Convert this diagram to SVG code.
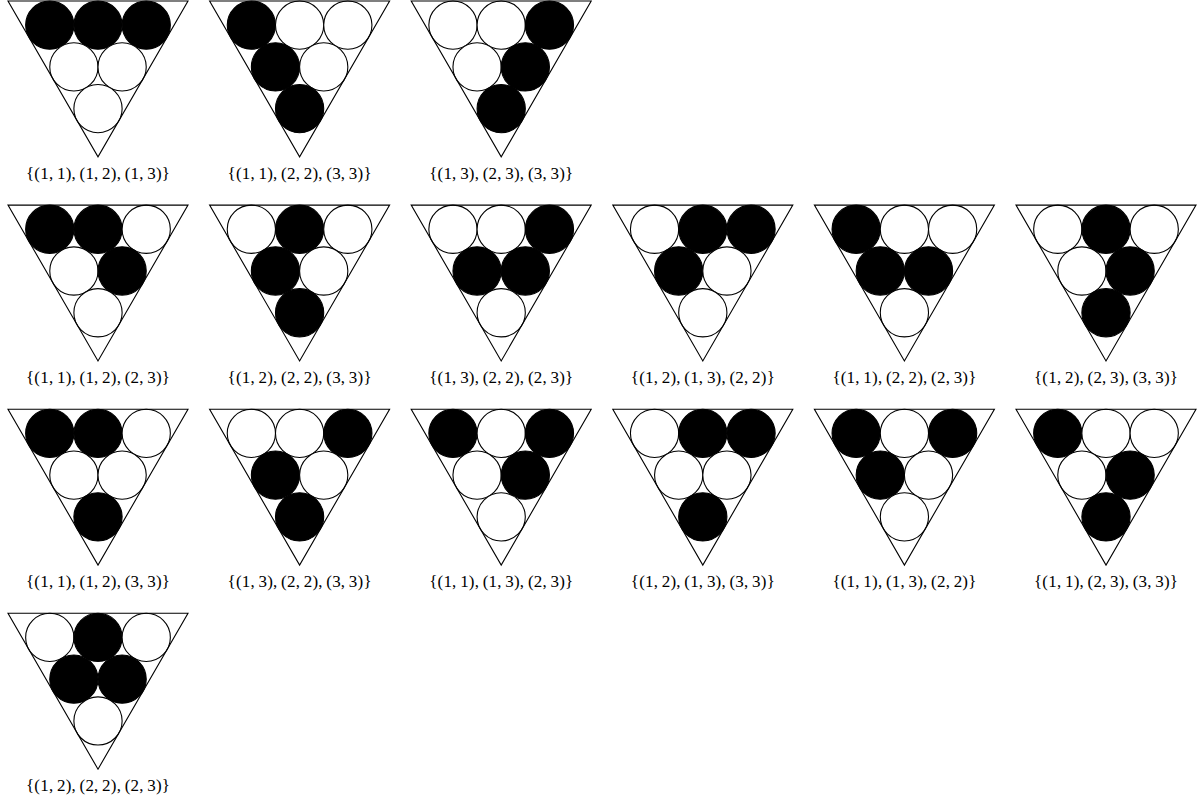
<svg xmlns="http://www.w3.org/2000/svg" xmlns:xlink="http://www.w3.org/1999/xlink" width="1198" height="802" viewBox="0 0 1198 802">
<style>
.tri{fill:none;stroke:#000;stroke-width:1.1;stroke-linejoin:miter}
.c{stroke:#000;stroke-width:1.1}
.w{fill:#fff}
.b{fill:#000}
.lbl{font-family:"Liberation Serif","DejaVu Serif",serif;font-size:17px;fill:#000;text-anchor:middle}
</style>
<defs>
<polygon id="tri" class="tri" points="0,0 180,0 90,155.88"/>
<circle id="TL" cx="41.77" cy="24.12" r="24.12"/>
<circle id="TM" cx="90" cy="24.12" r="24.12"/>
<circle id="TR" cx="138.23" cy="24.12" r="24.12"/>
<circle id="ML" cx="65.88" cy="65.88" r="24.12"/>
<circle id="MR" cx="114.12" cy="65.88" r="24.12"/>
<circle id="B" cx="90" cy="107.65" r="24.12"/>
</defs>
<rect width="1198" height="802" fill="#fff"/>

<g id="p1" transform="translate(8,1)">
<use href="#TL" class="c b"/><use href="#TM" class="c b"/><use href="#TR" class="c b"/>
<use href="#ML" class="c w"/><use href="#MR" class="c w"/><use href="#B" class="c w"/>
<use href="#tri"/>
<text class="lbl" x="90" y="177.5" textLength="144" lengthAdjust="spacing">{(1,&#8201;1),&#8201;(1,&#8201;2),&#8201;(1,&#8201;3)}</text>
</g>
<g id="p2" transform="translate(209.6,1)">
<use href="#TL" class="c b"/><use href="#TM" class="c w"/><use href="#TR" class="c w"/>
<use href="#ML" class="c b"/><use href="#MR" class="c w"/><use href="#B" class="c b"/>
<use href="#tri"/>
<text class="lbl" x="90" y="177.5" textLength="144" lengthAdjust="spacing">{(1,&#8201;1),&#8201;(2,&#8201;2),&#8201;(3,&#8201;3)}</text>
</g>
<g id="p3" transform="translate(411.2,1)">
<use href="#TL" class="c w"/><use href="#TM" class="c w"/><use href="#TR" class="c b"/>
<use href="#ML" class="c w"/><use href="#MR" class="c b"/><use href="#B" class="c b"/>
<use href="#tri"/>
<text class="lbl" x="90" y="177.5" textLength="144" lengthAdjust="spacing">{(1,&#8201;3),&#8201;(2,&#8201;3),&#8201;(3,&#8201;3)}</text>
</g>

<g id="p4" transform="translate(8,205.1)">
<use href="#TL" class="c b"/><use href="#TM" class="c b"/><use href="#TR" class="c w"/>
<use href="#ML" class="c w"/><use href="#MR" class="c b"/><use href="#B" class="c w"/>
<use href="#tri"/>
<text class="lbl" x="90" y="177.5" textLength="144" lengthAdjust="spacing">{(1,&#8201;1),&#8201;(1,&#8201;2),&#8201;(2,&#8201;3)}</text>
</g>
<g id="p5" transform="translate(209.6,205.1)">
<use href="#TL" class="c w"/><use href="#TM" class="c b"/><use href="#TR" class="c w"/>
<use href="#ML" class="c b"/><use href="#MR" class="c w"/><use href="#B" class="c b"/>
<use href="#tri"/>
<text class="lbl" x="90" y="177.5" textLength="144" lengthAdjust="spacing">{(1,&#8201;2),&#8201;(2,&#8201;2),&#8201;(3,&#8201;3)}</text>
</g>
<g id="p6" transform="translate(411.2,205.1)">
<use href="#TL" class="c w"/><use href="#TM" class="c w"/><use href="#TR" class="c b"/>
<use href="#ML" class="c b"/><use href="#MR" class="c b"/><use href="#B" class="c w"/>
<use href="#tri"/>
<text class="lbl" x="90" y="177.5" textLength="144" lengthAdjust="spacing">{(1,&#8201;3),&#8201;(2,&#8201;2),&#8201;(2,&#8201;3)}</text>
</g>
<g id="p7" transform="translate(612.8,205.1)">
<use href="#TL" class="c w"/><use href="#TM" class="c b"/><use href="#TR" class="c b"/>
<use href="#ML" class="c b"/><use href="#MR" class="c w"/><use href="#B" class="c w"/>
<use href="#tri"/>
<text class="lbl" x="90" y="177.5" textLength="144" lengthAdjust="spacing">{(1,&#8201;2),&#8201;(1,&#8201;3),&#8201;(2,&#8201;2)}</text>
</g>
<g id="p8" transform="translate(814.4,205.1)">
<use href="#TL" class="c b"/><use href="#TM" class="c w"/><use href="#TR" class="c w"/>
<use href="#ML" class="c b"/><use href="#MR" class="c b"/><use href="#B" class="c w"/>
<use href="#tri"/>
<text class="lbl" x="90" y="177.5" textLength="144" lengthAdjust="spacing">{(1,&#8201;1),&#8201;(2,&#8201;2),&#8201;(2,&#8201;3)}</text>
</g>
<g id="p9" transform="translate(1016,205.1)">
<use href="#TL" class="c w"/><use href="#TM" class="c b"/><use href="#TR" class="c w"/>
<use href="#ML" class="c w"/><use href="#MR" class="c b"/><use href="#B" class="c b"/>
<use href="#tri"/>
<text class="lbl" x="90" y="177.5" textLength="144" lengthAdjust="spacing">{(1,&#8201;2),&#8201;(2,&#8201;3),&#8201;(3,&#8201;3)}</text>
</g>

<g id="p10" transform="translate(8,409.2)">
<use href="#TL" class="c b"/><use href="#TM" class="c b"/><use href="#TR" class="c w"/>
<use href="#ML" class="c w"/><use href="#MR" class="c w"/><use href="#B" class="c b"/>
<use href="#tri"/>
<text class="lbl" x="90" y="177.5" textLength="144" lengthAdjust="spacing">{(1,&#8201;1),&#8201;(1,&#8201;2),&#8201;(3,&#8201;3)}</text>
</g>
<g id="p11" transform="translate(209.6,409.2)">
<use href="#TL" class="c w"/><use href="#TM" class="c w"/><use href="#TR" class="c b"/>
<use href="#ML" class="c b"/><use href="#MR" class="c w"/><use href="#B" class="c b"/>
<use href="#tri"/>
<text class="lbl" x="90" y="177.5" textLength="144" lengthAdjust="spacing">{(1,&#8201;3),&#8201;(2,&#8201;2),&#8201;(3,&#8201;3)}</text>
</g>
<g id="p12" transform="translate(411.2,409.2)">
<use href="#TL" class="c b"/><use href="#TM" class="c w"/><use href="#TR" class="c b"/>
<use href="#ML" class="c w"/><use href="#MR" class="c b"/><use href="#B" class="c w"/>
<use href="#tri"/>
<text class="lbl" x="90" y="177.5" textLength="144" lengthAdjust="spacing">{(1,&#8201;1),&#8201;(1,&#8201;3),&#8201;(2,&#8201;3)}</text>
</g>
<g id="p13" transform="translate(612.8,409.2)">
<use href="#TL" class="c w"/><use href="#TM" class="c b"/><use href="#TR" class="c b"/>
<use href="#ML" class="c w"/><use href="#MR" class="c w"/><use href="#B" class="c b"/>
<use href="#tri"/>
<text class="lbl" x="90" y="177.5" textLength="144" lengthAdjust="spacing">{(1,&#8201;2),&#8201;(1,&#8201;3),&#8201;(3,&#8201;3)}</text>
</g>
<g id="p14" transform="translate(814.4,409.2)">
<use href="#TL" class="c b"/><use href="#TM" class="c w"/><use href="#TR" class="c b"/>
<use href="#ML" class="c b"/><use href="#MR" class="c w"/><use href="#B" class="c w"/>
<use href="#tri"/>
<text class="lbl" x="90" y="177.5" textLength="144" lengthAdjust="spacing">{(1,&#8201;1),&#8201;(1,&#8201;3),&#8201;(2,&#8201;2)}</text>
</g>
<g id="p15" transform="translate(1016,409.2)">
<use href="#TL" class="c b"/><use href="#TM" class="c w"/><use href="#TR" class="c w"/>
<use href="#ML" class="c w"/><use href="#MR" class="c b"/><use href="#B" class="c b"/>
<use href="#tri"/>
<text class="lbl" x="90" y="177.5" textLength="144" lengthAdjust="spacing">{(1,&#8201;1),&#8201;(2,&#8201;3),&#8201;(3,&#8201;3)}</text>
</g>

<g id="p16" transform="translate(8,613.3)">
<use href="#TL" class="c w"/><use href="#TM" class="c b"/><use href="#TR" class="c w"/>
<use href="#ML" class="c b"/><use href="#MR" class="c b"/><use href="#B" class="c w"/>
<use href="#tri"/>
<text class="lbl" x="90" y="177.5" textLength="144" lengthAdjust="spacing">{(1,&#8201;2),&#8201;(2,&#8201;2),&#8201;(2,&#8201;3)}</text>
</g>
<g id="connectors"/>
</svg>
